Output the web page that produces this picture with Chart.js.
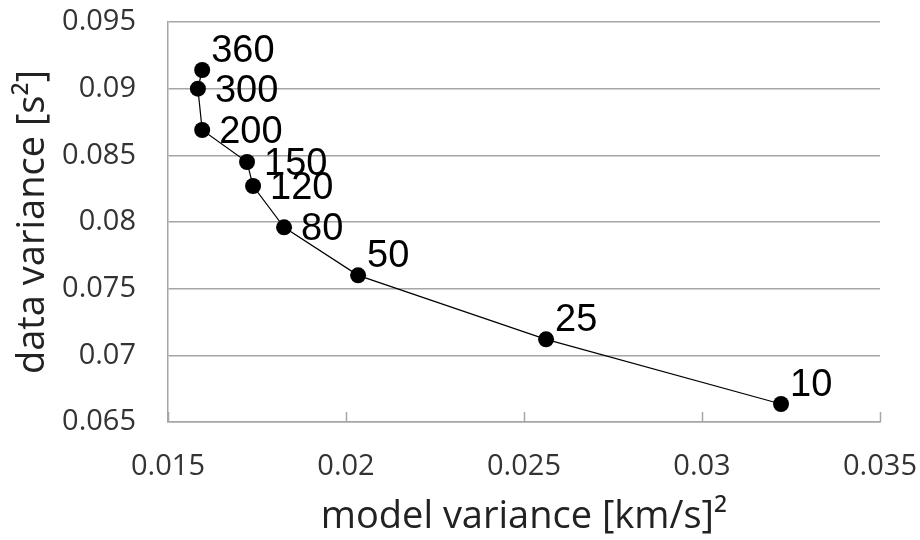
<!DOCTYPE html>
<html>
<head>
<meta charset="utf-8">
<script src="https://cdn.jsdelivr.net/npm/chart.js@4"></script>
<style>
  html, body { margin: 0; padding: 0; background: #fff; }
  #wrap { width: 920px; height: 540px; }
</style>
</head>
<body>
<div id="wrap"><canvas id="chart" width="920" height="540"></canvas></div>
<script>
// number of iterations / damping label for each point
const pointNames = ['360', '300', '200', '150', '120', '80', '50', '25', '10'];
const modelVariance = [0.01596, 0.01584, 0.01596, 0.01722, 0.01739, 0.01826, 0.02034, 0.02562, 0.03222];
const dataVariance = [0.0914, 0.0900, 0.0869, 0.0845, 0.0827, 0.0796, 0.0760, 0.0712, 0.06635];

const xTicks = [0.015, 0.02, 0.025, 0.03, 0.035];
const yTicks = [0.065, 0.07, 0.075, 0.08, 0.085, 0.09, 0.095];

// where each point label sits relative to its marker
const labelPlacement = ['above', 'right', 'right', 'right', 'right', 'right', 'above', 'above', 'above'];

const GRID = '#a6a6a6';

const pointLabels = {
  id: 'pointLabels',
  afterDatasetsDraw(chart, args, opts) {
    const ctx = chart.ctx;
    const meta = chart.getDatasetMeta(0);
    ctx.save();
    ctx.font = opts.font;
    ctx.fillStyle = opts.color;
    ctx.textAlign = 'left';
    ctx.textBaseline = 'alphabetic';
    meta.data.forEach((pt, i) => {
      const off = opts.offsets[labelPlacement[i]];
      ctx.fillText(pointNames[i], pt.x + off.dx, pt.y + off.dy);
    });
    ctx.restore();
  }
};

// Excel style ticks pointing up into the plot
const innerTicks = {
  id: 'innerTicks',
  beforeDatasetsDraw(chart) {
    const ctx = chart.ctx;
    const sx = chart.scales.x;
    const bottom = chart.chartArea.bottom;
    ctx.save();
    ctx.strokeStyle = GRID;
    ctx.lineWidth = 1.5;
    xTicks.forEach(v => {
      const px = Math.round(sx.getPixelForValue(v)) + 0.5;
      ctx.beginPath();
      ctx.moveTo(px, bottom);
      ctx.lineTo(px, bottom - 10);
      ctx.stroke();
    });
    ctx.restore();
  }
};

new Chart(document.getElementById('chart'), {
  type: 'scatter',
  data: {
    datasets: [{
      data: modelVariance.map((x, i) => ({ x: x, y: dataVariance[i] })),
      showLine: true,
      borderColor: '#000',
      borderWidth: 1.2,
      backgroundColor: '#000',
      pointRadius: 8,
      pointBorderWidth: 0,
      tension: 0,
    }],
  },
  options: {
    responsive: false,
    animation: false,
    layout: { padding: { top: 22, right: 40, left: 0, bottom: 0 } },
    plugins: {
      legend: { display: false },
      tooltip: { enabled: false },
      pointLabels: {
        font: '38px "Liberation Sans", Arial, sans-serif',
        color: '#000',
        offsets: {
          right: { dx: 17, dy: 13 },
          above: { dx: 9, dy: -8 },
        },
      },
    },
    scales: {
      x: {
        type: 'linear',
        min: 0.015,
        max: 0.035,
        afterBuildTicks: (s) => { s.ticks = xTicks.map(v => ({ value: v })); },
        afterFit: (s) => { s.height = 118; s.paddingLeft = 0; s.paddingRight = 0; },
        ticks: {
          color: '#333',
          padding: 27,
          maxRotation: 0,
          font: { family: '"Open Sans", sans-serif', size: 29 },
          callback: (v) => String(v),
        },
        grid: { drawOnChartArea: false, drawTicks: false, tickLength: 0 },
        border: { display: true, color: GRID, width: 1.5 },
        title: {
          display: true,
          text: 'model variance [km/s]²',
          color: '#222',
          font: { family: '"Open Sans", sans-serif', size: 38 },
          padding: { top: 18, bottom: 0 },
        },
      },
      y: {
        type: 'linear',
        min: 0.065,
        max: 0.095,
        afterBuildTicks: (s) => { s.ticks = yTicks.map(v => ({ value: v })); },
        afterFit: (s) => { s.width = 168; s.paddingTop = 0; s.paddingBottom = 0; },
        ticks: {
          color: '#333',
          padding: 32,
          font: { family: '"Open Sans", sans-serif', size: 29 },
          callback: (v) => String(v),
        },
        grid: { color: GRID, lineWidth: 1.5, drawTicks: false, tickLength: 0 },
        border: { display: true, color: GRID, width: 1.5 },
        title: {
          display: true,
          text: 'data variance [s²]',
          color: '#222',
          font: { family: '"Open Sans", sans-serif', size: 38 },
          padding: { top: 10, bottom: 0 },
        },
      },
    },
  },
  plugins: [pointLabels, innerTicks],
});
</script>
</body>
</html>
